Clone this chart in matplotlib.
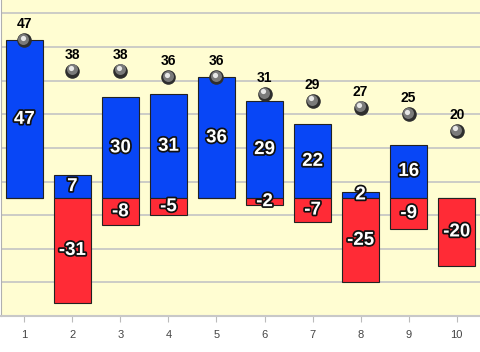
import matplotlib.pyplot as plt
import matplotlib.patheffects as pe
from matplotlib.transforms import offset_copy
import numpy as np

categorias = [1, 2, 3, 4, 5, 6, 7, 8, 9, 10]
positivos = [47, 7, 30, 31, 36, 29, 22, 2, 16, 0]
negativos = [0, -31, -8, -5, 0, -2, -7, -25, -9, -20]
totales = [47, 38, 38, 36, 36, 31, 29, 27, 25, 20]

azul = "#0846F6"
rojo = "#FF2B36"
fondo = "#FFFDD2"

plt.rcParams["font.family"] = ["Liberation Sans", "DejaVu Sans"]

fig = plt.figure(figsize=(4.8, 3.52), dpi=100)
ax = fig.add_axes([1 / 480, 36 / 352, 479 / 480, 316 / 352])
ax.set_facecolor(fondo)

x = np.array(categorias)
ax.bar(x, positivos, width=0.76, color=azul, edgecolor="#222222", linewidth=0.8, zorder=2)
ax.bar(x, negativos, width=0.76, color=rojo, edgecolor="#222222", linewidth=0.8, zorder=2)

contorno = [pe.withStroke(linewidth=2.5, foreground="#111111")]
for xi, p, n in zip(x, positivos, negativos):
    if p != 0:
        ax.text(xi, p / 2, str(p), ha="center", va="center", color="white",
                fontsize=13.5, fontweight="bold", path_effects=contorno, zorder=4)
    if n != 0:
        ax.text(xi, n / 2, str(n), ha="center", va="center", color="white",
                fontsize=13.5, fontweight="bold", path_effects=contorno, zorder=4)

# esferas grises con brillo
ax.scatter(x, totales, s=110, color="#2e2e2e", zorder=5, linewidths=0)
sombra = offset_copy(ax.transData, fig=fig, x=-0.6, y=0.8, units="points")
ax.scatter(x, totales, s=62, color="#7a7a7a", zorder=6, linewidths=0, transform=sombra)
brillo = offset_copy(ax.transData, fig=fig, x=-1.2, y=2.0, units="points")
ax.scatter(x, totales, s=14, color="#e8e8e8", zorder=7, linewidths=0, transform=brillo)

for xi, t in zip(x, totales):
    ax.annotate(str(t), (xi, t), xytext=(0, 6.5), textcoords="offset points",
                ha="center", va="bottom", fontsize=10, fontweight="bold",
                color="black", zorder=8)

ax.set_xlim(0.515, 10.485)
ax.set_ylim(-35, 59)
ax.set_yticks(np.arange(-25, 60, 10))
ax.yaxis.grid(True, color="#c4c4c4", linewidth=1.2, zorder=0)
ax.set_axisbelow(True)
ax.tick_params(axis="y", left=False, labelleft=False)
ax.set_xticks(categorias)
ax.tick_params(axis="x", colors="#bbbbbb", labelcolor="#444444", labelsize=8, length=4, pad=6)

for lado in ["top", "right"]:
    ax.spines[lado].set_visible(False)
ax.spines["left"].set_color("#b0b0b0")
ax.spines["bottom"].set_color("#c8c8c8")
ax.spines["bottom"].set_linewidth(1.5)

plt.savefig("out.png", dpi=100)
